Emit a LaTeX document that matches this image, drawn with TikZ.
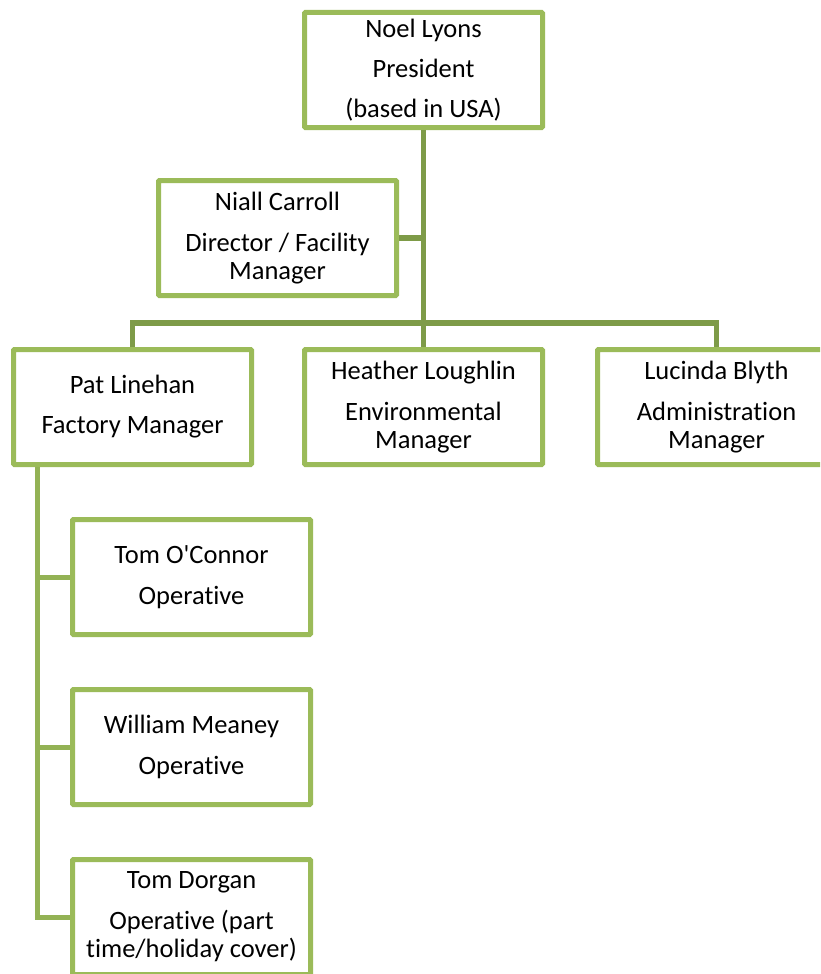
\documentclass[tikz,border=0pt]{standalone}
\usepackage{fontspec}
\setmainfont{Carlito}[Ligatures=NoCommon]
\usepackage{tikz}
\usetikzlibrary{positioning}

\definecolor{boxgreen}{HTML}{9BBB59}
\definecolor{linkgreen}{HTML}{7E9B48}

\begin{document}
\begin{tikzpicture}[
    x=1pt, y=1pt,
    node distance=50pt,
    person/.style={draw=boxgreen, line width=5pt, fill=white, rectangle, rounded corners=1pt, minimum width=238pt, minimum height=115pt, inner sep=0pt, align=center, font=\fontsize{26.5}{28}\selectfont},
    link/.style={draw=linkgreen, line width=5.5pt},
    sublink/.style={draw=boxgreen!95!black, line width=5pt}
]
    \path[use as bounding box] (0,0) rectangle (820,-974);
    \clip (0,0) rectangle (820,-974);

    % Top
    \node[person] (president) at (423.5,-70) {Noel Lyons\\[12pt]President\\[12pt](based in USA)};
    \node[person] (niall) at (277.5,-238) {Niall Carroll\\[13pt]Director / Facility\\Manager};

    % Managers
    \node[person, below=217pt of president] (heather) {Heather Loughlin\\[13pt]Environmental\\Manager};
    \node[person, left=48pt of heather] (pat) {Pat Linehan\\[12pt]Factory Manager};
    \node[person, right=50pt of heather] (lucinda) {Lucinda Blyth\\[13pt]Administration\\Manager};

    % Operatives
    \node[person, below=50pt of pat, xshift=59pt] (oconnor) {Tom O\textquotesingle Connor\\[13pt]Operative};
    \node[person, below=of oconnor] (meaney) {William Meaney\\[13pt]Operative};
    \node[person, below=of meaney] (dorgan) {Tom Dorgan\\[13pt]Operative (part\\time/holiday cover)};

    % Connections
    \coordinate (bar) at ([yshift=24pt]heather.north);
    \coordinate (pattrunk) at ([xshift=26pt]pat.south west);
    \draw[link] (president.south) -- (heather.north);
    \draw[link] (niall.east) -- (niall.east -| president.south);
    \draw[link] (pat.north) |- (bar) -| (lucinda.north);
    \draw[sublink] (pattrunk) |- (dorgan.west);
    \draw[sublink] (pattrunk |- oconnor.west) -- (oconnor.west);
    \draw[sublink] (pattrunk |- meaney.west) -- (meaney.west);
\end{tikzpicture}
\end{document}
